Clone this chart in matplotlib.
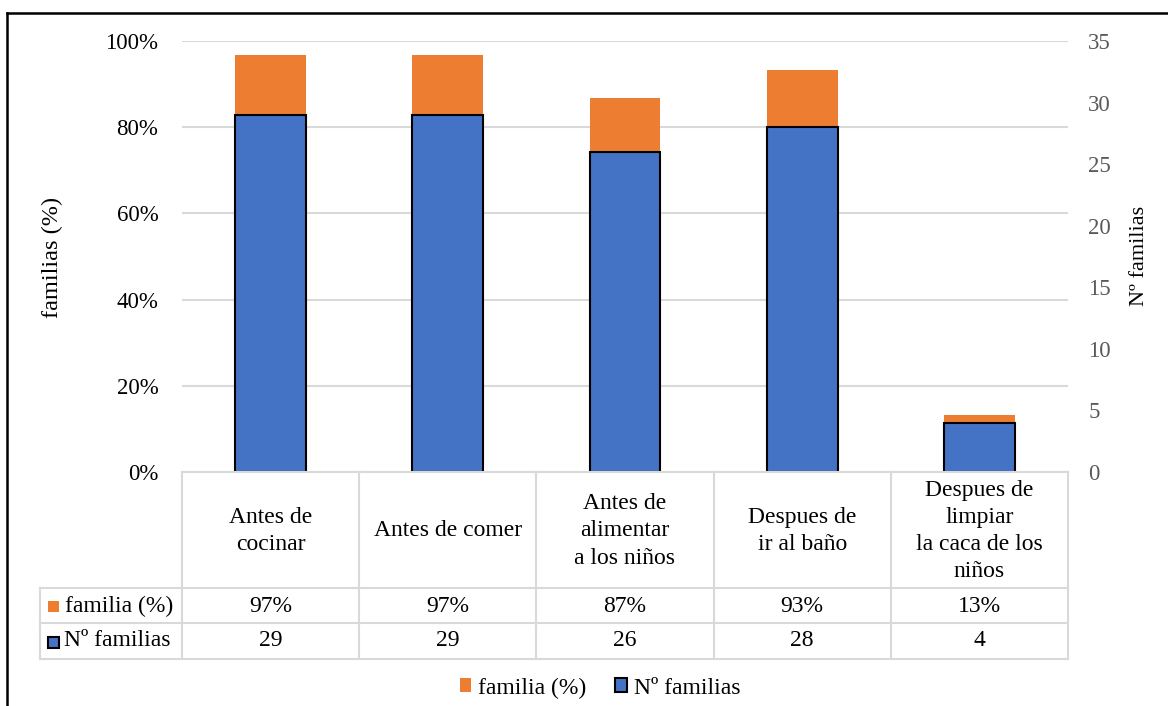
import matplotlib
matplotlib.use('Agg')
import matplotlib.pyplot as plt
import matplotlib.transforms as mtransforms
from matplotlib.patches import Rectangle, Patch
from matplotlib.lines import Line2D
import numpy as np

# ---- data ----
categories = ["Antes de\ncocinar", "Antes de comer", "Antes de\nalimentar\na los niños",
              "Despues de\nir al baño", "Despues de\nlimpiar\nla caca de los\nniños"]
pct_values = [0.9667, 0.9667, 0.8667, 0.9333, 0.1333]
count_values = [29, 29, 26, 28, 4]
pct_labels = ["97%", "97%", "87%", "93%", "13%"]
series_names = ["familia (%)", "Nº familias"]
left_ticks = [0, 0.2, 0.4, 0.6, 0.8, 1.0]
right_ticks = [0, 5, 10, 15, 20, 25, 30, 35]

plt.rcParams['font.family'] = ['Liberation Serif', 'DejaVu Serif']

W, H = 1168, 706
fig = plt.figure(figsize=(W / 100, H / 100), dpi=100)

def fx(px):
    return px / W

def fy(py):
    return 1 - py / H

L, R, T, B = 182, 1068, 41, 472
ax = fig.add_axes([fx(L), fy(B), (R - L) / W, (B - T) / H])
ax2 = ax.twinx()

orange = '#ED7D31'
blue = '#4472C4'
grid_c = '#d9d9d9'
FS = 17
FS_T = 16.5

x = np.arange(len(categories))
ax.bar(x, pct_values, width=0.4, color=orange, zorder=2)
ax2.bar(x, count_values, width=0.4, color=blue, edgecolor='black', linewidth=1.5, zorder=3)

ax.set_xlim(-0.5, len(categories) - 0.5)
ax.set_ylim(0, 1)
ax2.set_ylim(0, 35)
ax.set_yticks(left_ticks)
ax.set_yticklabels([f"{int(round(v * 100))}%" for v in left_ticks])
ax2.set_yticks(right_ticks)
ax2.set_yticklabels([str(v) for v in right_ticks])
ax.set_xticks([])
ax.grid(axis='y', color=grid_c, lw=1.5)
ax.set_axisbelow(True)
for a in (ax, ax2):
    for s in a.spines.values():
        s.set_visible(False)
ax.tick_params(axis='y', length=0, pad=17, labelsize=FS_T, labelcolor='#000000')
ax2.tick_params(axis='y', length=0, pad=14.5, labelsize=FS_T, labelcolor='#595959')

# axis titles
fig.text(fx(52), fy(257), "familias (%)", rotation=90, ha='center', va='center', fontsize=17.5)
fig.text(fx(1140), fy(256), "Nº familias", rotation=90, ha='center', va='center', fontsize=16)

# ---- data table ----
tr = mtransforms.blended_transform_factory(ax.transData, fig.transFigure)
n = len(categories)
row_y = [472, 588, 623, 659]
lab_left = 40
lw_t = 1.5
fig.add_artist(Line2D([-0.5, n - 0.5], [fy(row_y[0])] * 2, transform=tr, color=grid_c, lw=lw_t))
for yy in row_y[1:]:
    fig.add_artist(Line2D([fx(lab_left), fx(R)], [fy(yy)] * 2, transform=fig.transFigure,
                          color=grid_c, lw=lw_t))
for k in range(n + 1):
    xb = k - 0.5
    fig.add_artist(Line2D([xb, xb], [fy(row_y[0]), fy(row_y[3])], transform=tr, color=grid_c, lw=lw_t))
fig.add_artist(Line2D([fx(lab_left)] * 2, [fy(row_y[1]), fy(row_y[3])], transform=fig.transFigure,
                      color=grid_c, lw=lw_t))

for i, c in enumerate(categories):
    fig.text(i, fy(531), c, transform=tr, ha='center', va='center', fontsize=FS, linespacing=1.38)
    fig.text(i, fy(606), pct_labels[i], transform=tr, ha='center', va='center', fontsize=FS)
    fig.text(i, fy(641), str(count_values[i]), transform=tr, ha='center', va='center', fontsize=FS)

# row labels with keys
fig.add_artist(Rectangle((fx(48), fy(612)), fx(11), 11 / H, transform=fig.transFigure,
                         facecolor=orange, edgecolor='none'))
fig.text(fx(65), fy(606), series_names[0], ha='left', va='center', fontsize=FS)
fig.add_artist(Rectangle((fx(48), fy(648)), fx(11), 11 / H, transform=fig.transFigure,
                         facecolor=blue, edgecolor='black', lw=1.5))
fig.text(fx(64), fy(641), series_names[1], ha='left', va='center', fontsize=FS)

# legend
handles = [Patch(facecolor=orange, edgecolor='none'),
           Patch(facecolor=blue, edgecolor='black', linewidth=1.5)]
fig.legend(handles, series_names, loc='center', bbox_to_anchor=(fx(600), fy(688)), ncol=2,
           frameon=False, fontsize=FS, handlelength=0.5, handleheight=0.5, handletextpad=0.3,
           columnspacing=1.2)

# outer frame
fig.add_artist(Line2D([fx(7), fx(7)], [fy(13), 0], transform=fig.transFigure, color='black', lw=1.8))
fig.add_artist(Line2D([fx(7), 1], [fy(13), fy(13)], transform=fig.transFigure, color='black', lw=1.8))

fig.savefig('out.png', dpi=100)
